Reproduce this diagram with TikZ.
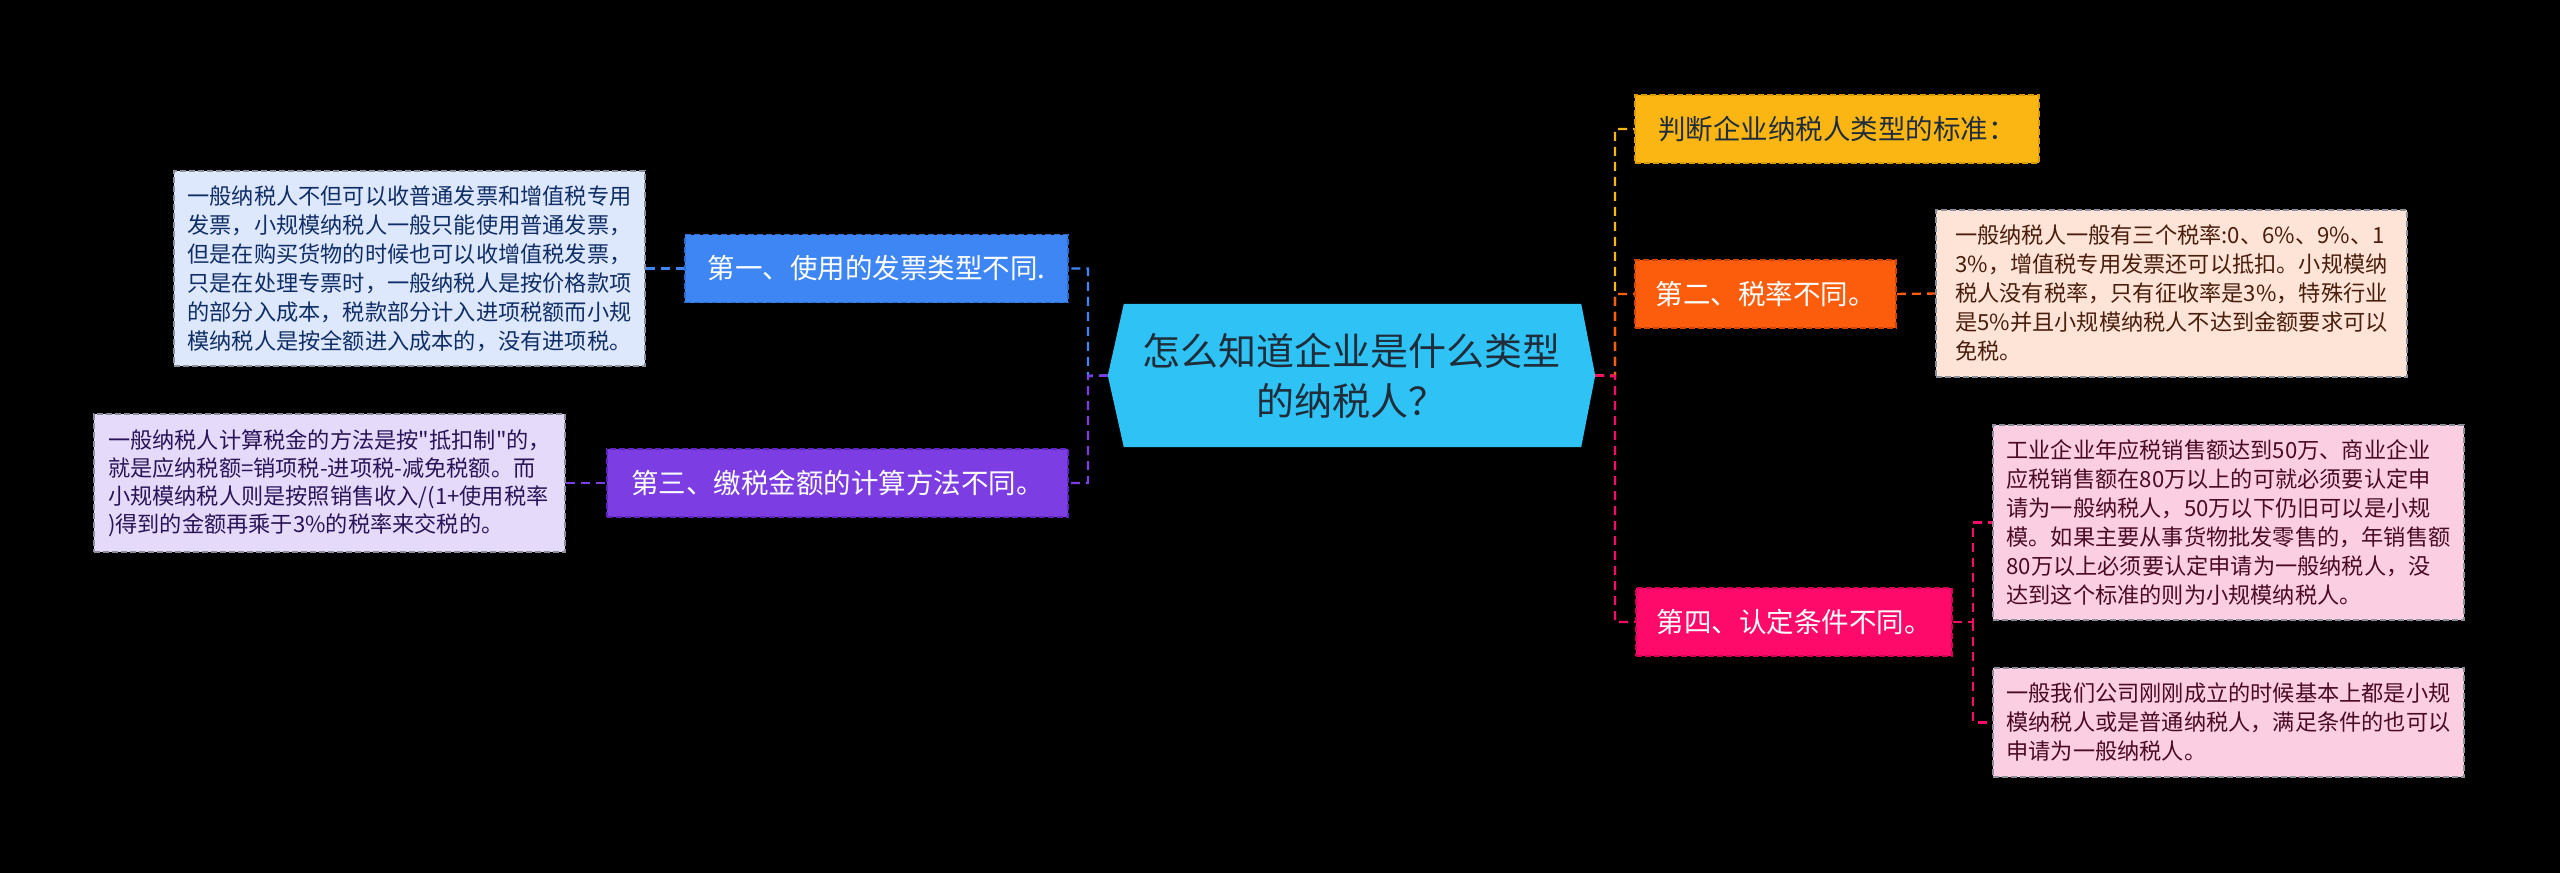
\documentclass[tikz,border=0pt]{standalone}
\usepackage{fontspec}
\setmainfont{Noto Sans CJK SC}
\newfontfamily\cjkplain{Noto Sans CJK SC}
\usetikzlibrary{backgrounds}
\definecolor{cCenter}{HTML}{2FC3F5}
\definecolor{tCenter}{HTML}{1F2D3A}
\definecolor{cBlue}{HTML}{3F86F5}
\definecolor{dBlue}{HTML}{2A6BD0}
\definecolor{cPurple}{HTML}{7C3DE3}
\definecolor{dPurple}{HTML}{5E25C0}
\definecolor{cYellow}{HTML}{FCB614}
\definecolor{dYellow}{HTML}{D99A00}
\definecolor{cOrange}{HTML}{FB5D0D}
\definecolor{dOrange}{HTML}{D04400}
\definecolor{cPink}{HTML}{FE0A6B}
\definecolor{dPink}{HTML}{D00052}
\definecolor{nBlue}{HTML}{DEE8FC}
\definecolor{tBlue}{HTML}{102E66}
\definecolor{nPurple}{HTML}{E6DAFB}
\definecolor{tPurple}{HTML}{2A1458}
\definecolor{nOrange}{HTML}{FDE4D7}
\definecolor{tOrange}{HTML}{4A1E0C}
\definecolor{nPink}{HTML}{FCCEE2}
\definecolor{tPink}{HTML}{4A0B24}
\definecolor{nBorder}{HTML}{8A8F9A}
\begin{document}
\begin{tikzpicture}[x=1pt,y=-1pt,
  conn/.style={line width=2.4pt, dash pattern=on 9pt off 6pt},
  branch/.style={minimum height=68pt, inner xsep=14pt, inner ysep=0pt,
    font=\cjkplain\fontsize{27.5pt}{34pt}\selectfont, text=white,
    line width=1.6pt, dash pattern=on 6pt off 3pt},
  note/.style={align=left, inner sep=0pt, minimum width=471pt,
    font=\cjkplain\fontsize{22.2pt}{29pt}\selectfont,
    draw=nBorder, line width=1.6pt, dash pattern=on 6pt off 3pt},
]
\useasboundingbox (0,0) rectangle (2560,873);

% center
\node[minimum width=487pt, minimum height=143pt, inner sep=0pt, align=center,
  text=tCenter, font=\cjkplain\fontsize{38pt}{50pt}\selectfont] (c) at (1351.5,375.5)
  {怎么知道企业是什么类型\\的纳税人？};

% left branches
\node[branch, fill=cBlue, draw=dBlue, minimum width=383pt] (b1) at (876.5,268.5)
  {第一、使用的发票类型不同.};
\node[branch, fill=cPurple, draw=dPurple, minimum width=461pt] (b3) at (837.5,483)
  {第三、缴税金额的计算方法不同。};

\node[note, fill=nBlue, text=tBlue, minimum height=195pt] (t1) at (409.5,268.5)
  {一般纳税人不但可以收普通发票和增值税专用\\
   发票，小规模纳税人一般只能使用普通发票，\\
   但是在购买货物的时候也可以收增值税发票，\\
   只是在处理专票时，一般纳税人是按价格款项\\
   的部分入成本，税款部分计入进项税额而小规\\
   模纳税人是按全额进入成本的，没有进项税。};
\node[note, fill=nPurple, text=tPurple, minimum height=138pt,
  font=\cjkplain\fontsize{22.2pt}{28pt}\selectfont] (t3) at (329.5,483)
  {一般纳税人计算税金的方法是按"抵扣制"的，\\
   就是应纳税额=销项税-进项税-减免税额。而\\
   小规模纳税人则是按照销售收入/(1+使用税率\\
   )得到的金额再乘于3\%的税率来交税的。};

% right branches
\node[branch, fill=cYellow, draw=dYellow, text=tCenter, minimum width=404pt] (b0) at (1837,129)
  {判断企业纳税人类型的标准：};
\node[branch, fill=cOrange, draw=dOrange, minimum width=261pt] (b2) at (1765.5,294)
  {第二、税率不同。};
\node[branch, fill=cPink, draw=dPink, minimum width=316pt] (b4) at (1794,622)
  {第四、认定条件不同。};

\node[note, fill=nOrange, text=tOrange, minimum height=167pt] (t2) at (2171.5,293.5)
  {一般纳税人一般有三个税率:0、6\%、9\%、1\\
   3\%，增值税专用发票还可以抵扣。小规模纳\\
   税人没有税率，只有征收率是3\%，特殊行业\\
   是5\%并且小规模纳税人不达到金额要求可以\\
   免税。};
\node[note, fill=nPink, text=tPink, minimum height=195pt] (t4a) at (2228.5,522.5)
  {工业企业年应税销售额达到50万、商业企业\\
   应税销售额在80万以上的可就必须要认定申\\
   请为一般纳税人，50万以下仍旧可以是小规\\
   模。如果主要从事货物批发零售的，年销售额\\
   80万以上必须要认定申请为一般纳税人，没\\
   达到这个标准的则为小规模纳税人。};
\node[note, fill=nPink, text=tPink, minimum height=109pt] (t4b) at (2228.5,722.5)
  {一般我们公司刚刚成立的时候基本上都是小规\\
   模纳税人或是普通纳税人，满足条件的也可以\\
   申请为一般纳税人。};

\begin{pgfonlayer}{background}
  \fill[black] (0,0) rectangle (2560,873);
  \fill[cCenter] (c.west) -- ([xshift=16pt]c.north west) -- ([xshift=-14pt]c.north east)
    -- (c.east) -- ([xshift=-14pt]c.south east) -- ([xshift=16pt]c.south west) -- cycle;
\end{pgfonlayer}

% junctions
\coordinate (jl) at (1088,376);
\coordinate (jr) at (1615,376);
\coordinate (j4) at (1973,622);

% connectors
\draw[conn, cBlue] (c.west) -- (jl) |- (b1.east);
\draw[conn, cPurple] (c.west) -- (jl) |- (b3.east);
\draw[conn, cBlue] (t1.east) -- (b1.west);
\draw[conn, cPurple] (t3.east) -- (b3.west);

\draw[conn, cYellow] (c.east) -- (jr) |- (b0.west);
\draw[conn, cOrange] (c.east) -- (jr) |- (b2.west);
\draw[conn, cPink] (c.east) -- (jr) |- (b4.west);
\draw[conn, cOrange] (b2.east) -- (t2.west);
\draw[conn, cPink] (b4.east) -- (j4) |- (t4a.west);
\draw[conn, cPink] (j4) |- (t4b.west);
\end{tikzpicture}
\end{document}
